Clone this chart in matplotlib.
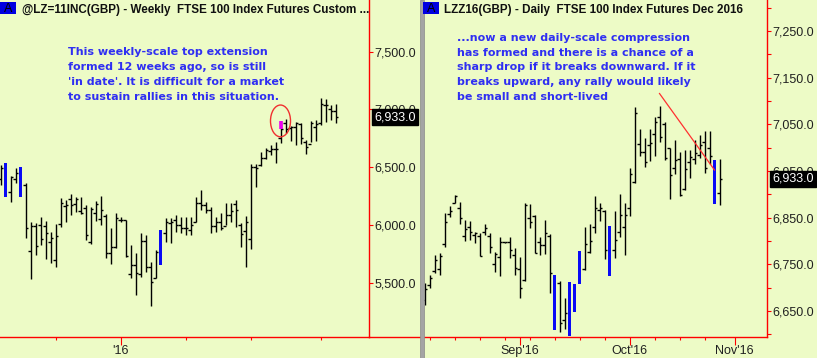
import matplotlib
matplotlib.use("Agg")
import matplotlib.pyplot as plt
import matplotlib.transforms as mtransforms
from matplotlib.patches import Ellipse, Rectangle
from matplotlib.lines import Line2D
import numpy as np

# ---- weekly chart (left), one bar per week ----
wk_open = [6400, 6400, 6283, 6395, 6400, 6350, 5775, 5990, 6000, 5990,
           5856, 5700, 6009, 6164, 6222, 6180, 6121, 6150, 5850, 6100,
           6050, 6080, 5760, 5813, 6040, 6040, 5580, 5650, 5580, 5860,
           5640, 5539, 5700, 5928, 6020, 6040, 6000, 5970, 5960, 6029,
           6190, 6170, 6130, 5990, 6029, 5990, 6087, 6180, 6000, 5950,
           5876, 6500, 6520, 6580, 6640, 6660, 6750, 6880, 6840, 6850,
           6870, 6720, 6700, 6850, 6879, 7038, 7000, 6990]
wk_high = [6519, 6534, 6424, 6490, 6505, 6361, 6029, 6015, 6072, 6038,
           5943, 6009, 6231, 6216, 6268, 6245, 6245, 6173, 6159, 6211,
           6254, 6095, 5971, 6100, 6072, 6044, 5827, 5755, 5928, 5914,
           5683, 5784, 5957, 6058, 6058, 6087, 6072, 6072, 6072, 6245,
           6303, 6202, 6159, 6072, 6101, 6188, 6188, 6216, 6014, 6078,
           6528, 6528, 6634, 6663, 6692, 6721, 6902, 6914, 6856, 6894,
           6885, 6735, 6902, 6908, 7096, 7087, 7038, 7047]
wk_low = [6346, 6245, 6202, 6361, 6245, 5885, 5530, 5740, 5827, 5703,
          5669, 5640, 5980, 6029, 6087, 6115, 6095, 5870, 5836, 6038,
          6000, 5712, 5663, 5799, 6029, 5720, 5539, 5395, 5553, 5597,
          5303, 5539, 5654, 5856, 5847, 5943, 5928, 5914, 5914, 6029,
          6130, 6101, 5928, 5943, 5957, 6000, 6029, 5986, 5807, 5640,
          5790, 6332, 6510, 6568, 6606, 6533, 6706, 6793, 6730, 6692,
          6700, 6614, 6721, 6730, 6865, 6894, 6908, 6885]
wk_close = [6490, 6300, 6418, 6447, 6300, 5971, 5992, 5818, 5876, 5934,
            5885, 5905, 6193, 6173, 6173, 6222, 6101, 5914, 6136, 6182,
            6130, 5761, 5813, 6064, 6044, 5730, 5654, 5582, 5865, 5640,
            5504, 5770, 5900, 6029, 6029, 6000, 5971, 5971, 6000, 6193,
            6173, 6130, 5992, 6029, 5971, 6087, 6124, 6130, 5922, 6029,
            6500, 6490, 6577, 6649, 6660, 6655, 6827, 6827, 6850, 6879,
            6750, 6672, 6879, 6871, 7050, 7038, 6989, 6933]
wk_blue = [1, 4, 32]
wk_pink = 56
wk_pink_range = [6827, 6902]
wk_ticks_major = [24]
wk_ticks_major_labels = ["'16"]
wk_ticks_minor = [11, 37, 50, 64]
wk_yticks = [5500, 6000, 6500, 7000, 7500]
wk_ring = [56, 6900, 4.0, 275]   # x, y, width, height of the circled bar

# ---- daily chart (right), one bar per trading day ----
dy_open = [6674, 6705, 6735, 6739, 6793, 6858, 6881, 6870, 6810, 6830,
           6812, 6811, 6820, 6810, 6750, 6766, 6797, 6797, 6770, 6740,
           6717, 6849, 6854, 6797, 6792, 6810, 6720, 6709, 6630, 6700,
           6690, 6720, 6740, 6776, 6830, 6867, 6865, 6800, 6781, 6820,
           6830, 6870, 6927, 7008, 6991, 7005, 7030, 7066, 7050, 6999,
           6956, 6975, 6912, 6970, 6975, 6985, 7011, 7000, 6960, 6902]
dy_high = [6709, 6727, 6770, 6774, 6859, 6874, 6899, 6884, 6844, 6843,
           6820, 6818, 6836, 6818, 6777, 6808, 6798, 6808, 6784, 6766,
           6881, 6879, 6856, 6808, 6845, 6815, 6727, 6713, 6677, 6711,
           6708, 6779, 6829, 6836, 6896, 6881, 6867, 6832, 6864, 6900,
           6881, 6956, 7088, 7039, 7020, 7041, 7065, 7089, 7054, 6999,
           7016, 6991, 6995, 6995, 7016, 7027, 7036, 7036, 6974, 6975]
dy_low = [6663, 6699, 6732, 6727, 6788, 6852, 6881, 6836, 6799, 6802,
          6795, 6767, 6813, 6775, 6734, 6724, 6795, 6763, 6727, 6677,
          6713, 6827, 6775, 6770, 6772, 6689, 6609, 6604, 6611, 6597,
          6647, 6708, 6738, 6774, 6818, 6842, 6761, 6724, 6763, 6809,
          6770, 6854, 6925, 6981, 6959, 6972, 6983, 7013, 6974, 6889,
          6943, 6896, 6909, 6934, 6965, 6977, 6946, 6965, 6879, 6877]
dy_close = [6697, 6720, 6759, 6768, 6841, 6864, 6896, 6849, 6825, 6820,
            6817, 6768, 6827, 6786, 6772, 6797, 6797, 6781, 6742, 6699,
            6878, 6840, 6775, 6792, 6817, 6732, 6620, 6625, 6645, 6650,
            6700, 6760, 6794, 6799, 6870, 6870, 6781, 6780, 6802, 6856,
            6856, 6943, 7075, 6991, 6970, 7009, 7056, 7022, 6977, 6941,
            6974, 6899, 6954, 6980, 6988, 7006, 6956, 6981, 6900, 6933]
dy_blue = [26, 29, 30, 31, 37, 58]
dy_ticks_major = [19, 41, 62]
dy_ticks_major_labels = ["Sep'16", "Oct'16", "Nov'16"]
dy_ticks_minor = [1, 6, 11, 16, 21, 26, 31, 36, 46, 51, 56]
dy_yticks = [6650, 6750, 6850, 6950, 7050, 7150, 7250]
dy_yticks_minor = [6600, 6700, 6800, 6900, 7000, 7100, 7200, 7300]
dy_trend_x = [47, 58]
dy_trend_y = [7116, 6952]

left_note = ["This weekly-scale top extension",
             "formed 12 weeks ago, so is still",
             "'in date'. It is difficult for a market",
             "to sustain rallies in this situation."]
right_note = ["...now a new daily-scale compression",
              "has formed and there is a chance of a",
              "sharp drop if it breaks downward. If it",
              "breaks upward, any rally would likely",
              "be small and short-lived"]

BG = "#EDFBC6"
RED = "#FF0000"
BLUE = "#0A0AF5"
NOTE = "#2F2FF2"
LBL = "#202020"

W, H = 817, 358


def fx(px):
    return px / W


def fy(py):
    return 1 - py / H


def draw_bars(ax, o, h, l, c, blue):
    o, h, l, c = map(np.asarray, (o, h, l, c))
    x = np.arange(len(h))
    keep = np.array([i not in blue for i in x])
    ax.vlines(x[keep], l[keep], h[keep], color="black", lw=1.0)
    ax.hlines(o[keep], x[keep] - 0.45, x[keep], color="black", lw=1.0)
    ax.hlines(c[keep], x[keep], x[keep] + 0.45, color="black", lw=1.0)
    b = np.array(blue)
    ax.bar(b, h[b] - l[b], bottom=l[b], width=0.65, color=BLUE, lw=0)


def style_axis(ax):
    ax.set_facecolor(BG)
    for s in ["top", "left"]:
        ax.spines[s].set_visible(False)
    for s in ["right", "bottom"]:
        ax.spines[s].set_color(RED)
        ax.spines[s].set_linewidth(1.0)
    ax.yaxis.tick_right()
    ax.yaxis.set_major_formatter(matplotlib.ticker.FuncFormatter(lambda v, p: "{:,.1f}".format(v)))
    ax.tick_params(axis="y", which="both", direction="out", length=3, width=0.8, color=RED,
                   labelsize=9, labelcolor=LBL, pad=1)
    ax.tick_params(axis="x", which="major", direction="out", length=5.5, width=0.8, color=RED,
                   labelsize=9, labelcolor=LBL, pad=0.5)
    ax.tick_params(axis="x", which="minor", direction="out", length=2.5, width=0.8, color=RED)
    for t in ax.get_xticklabels() + ax.get_yticklabels():
        t.set_fontfamily("Liberation Sans")


def price_box(ax, fig, value):
    tr = mtransforms.blended_transform_factory(ax.transAxes, ax.transData)
    tr = mtransforms.offset_copy(tr, fig=fig, x=5, y=0, units="dots")
    ax.text(1.0, value, "{:,.1f}".format(value), transform=tr, color="white",
            fontsize=9, family="Liberation Sans", va="center", ha="left", clip_on=False,
            bbox=dict(boxstyle="square,pad=0.18", fc="black", ec="black"), zorder=10)


fig = plt.figure(figsize=(W / 100, H / 100), dpi=100, facecolor=BG)

axL = fig.add_axes([0, fy(337), fx(369), fy(0) - fy(337)])
axR = fig.add_axes([fx(422), fy(337), fx(767 - 422), fy(0) - fy(337)])

# left: weekly
draw_bars(axL, wk_open, wk_high, wk_low, wk_close, wk_blue)
axL.vlines(wk_pink, wk_pink_range[0], wk_pink_range[1], color="#F000F0", lw=2.6, zorder=3)
axL.add_patch(Ellipse((wk_ring[0], wk_ring[1]), wk_ring[2], wk_ring[3], fill=False,
                      ec="#F03030", lw=1.0, zorder=4))
axL.set_xlim(-0.1, 73.7)
axL.set_ylim(5031, 7946)
axL.set_yticks(wk_yticks)
axL.set_xticks(wk_ticks_major)
axL.set_xticklabels(wk_ticks_major_labels)
axL.set_xticks(wk_ticks_minor, minor=True)
style_axis(axL)
price_box(axL, fig, wk_close[-1])

# right: daily
draw_bars(axR, dy_open, dy_high, dy_low, dy_close, dy_blue)
axR.plot(dy_trend_x, dy_trend_y, color="#FF3030", lw=0.9, zorder=4)
axR.set_xlim(-0.5, 68.5)
axR.set_ylim(6594, 7316.5)
axR.set_yticks(dy_yticks)
axR.set_yticks(dy_yticks_minor, minor=True)
axR.set_xticks(dy_ticks_major)
axR.set_xticklabels(dy_ticks_major_labels)
axR.set_xticks(dy_ticks_minor, minor=True)
style_axis(axR)
price_box(axR, fig, dy_close[-1])

# bottom line under the left price scale, divider between panels
fig.add_artist(Line2D([fx(369), fx(421)], [fy(337), fy(337)], color=RED, lw=1.0))
fig.add_artist(Rectangle((fx(420), 0), fx(3.5), 1, transform=fig.transFigure,
                         fc="#A4A4A4", ec="#8A8A8A", lw=0.5, zorder=5))

# headers
for x0, title in [(0, "@LZ=11INC(GBP) - Weekly  FTSE 100 Index Futures Custom ..."),
                  (423, "LZZ16(GBP) - Daily  FTSE 100 Index Futures Dec 2016")]:
    fig.add_artist(Rectangle((fx(x0), fy(14)), fx(15.5), fy(2) - fy(14),
                             transform=fig.transFigure, fc="#0000E0", ec="none", zorder=6))
    fig.text(fx(x0 + 7.8), fy(12.5), "A", fontsize=9, family="Liberation Sans",
             color="black", ha="center", va="baseline", zorder=7)
    fig.text(fx(x0 + 21.5), fy(12.7), title, fontsize=8.4, family="Liberation Sans",
             fontweight="bold", color="#101010", ha="left", va="baseline", zorder=7)

# notes
for k, line in enumerate(left_note):
    fig.text(fx(68), fy(55 + 15 * k), line, fontsize=8, family="DejaVu Sans",
             fontweight="bold", color=NOTE, ha="left", va="baseline")
for k, line in enumerate(right_note):
    fig.text(fx(457), fy(40.7 + 14.8 * k), line, fontsize=8, family="DejaVu Sans",
             fontweight="bold", color=NOTE, ha="left", va="baseline")

fig.savefig("out.png", dpi=100, facecolor=BG)
